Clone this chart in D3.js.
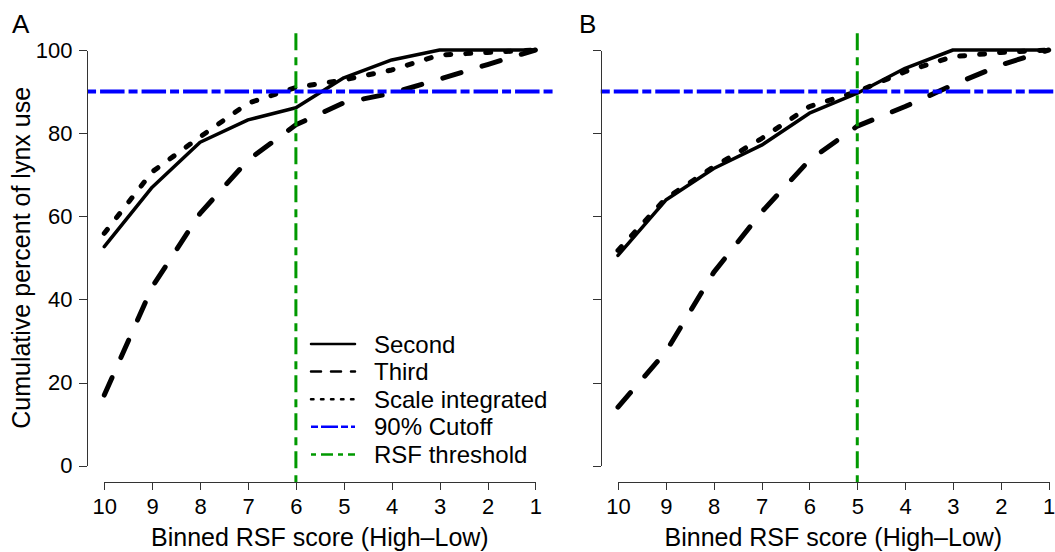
<!DOCTYPE html>
<html>
<head>
<meta charset="utf-8">
<script src="https://cdn.jsdelivr.net/npm/d3@7"></script>
<style>
    body { margin: 0; background: #fff; }
    svg text { font-family: "Liberation Sans", Arial, sans-serif; fill: #000; }
    .axis path, .axis line { stroke: #333; stroke-width: 1; shape-rendering: crispEdges; }
</style>
</head>
<body>
<div id="chart"></div>
<script>

// binned RSF score, high to low
var bins = [10, 9, 8, 7, 6, 5, 4, 3, 2, 1];
var yTicks = [0, 20, 40, 60, 80, 100];

// panel A
var secondA = [52.7, 67.0, 77.8, 83.2, 86.1, 93.3, 97.6, 100, 100, 100];
var thirdA = [17.0, 43.0, 60.7, 73.5, 82.0, 87.3, 89.6, 93.0, 96.5, 100];
var integratedA = [55.9, 70.7, 79.1, 87.2, 91.0, 92.8, 95.2, 98.8, 99.4, 100];

// panel B
var secondB = [50.6, 63.9, 71.5, 77.1, 84.8, 89.6, 95.6, 100, 100, 100];
var thirdB = [14.1, 27.4, 46.5, 61.0, 73.5, 81.7, 86.4, 91.6, 96.4, 100];
var integratedB = [51.8, 64.3, 71.9, 78.7, 86.4, 90.0, 94.8, 98.4, 99.4, 100];

var cutoff = 90;
var thresholdA = 6, thresholdB = 5;

var legendLabels = ["Second", "Third", "Scale integrated", "90% Cutoff", "RSF threshold"];

var width = 1055, height = 552;
var svg;

// line styles (legend uses thinner versions)
var styles = [
    { stroke: "#000", width: 3.5, dash: null, cap: "round", lw: 2.5, ldash: null },
    { stroke: "#000", width: 5, dash: "19,22", cap: "round", lw: 2.5, ldash: "10,10" },
    { stroke: "#000", width: 5, dash: "5,15", cap: "round", lw: 2.5, ldash: "2.5,7.5" },
    { stroke: "#0000ff", width: 4, dash: "9,4,24.5,4", cap: "butt", lw: 2.5, ldash: "7,3,17,3" },
    { stroke: "#009900", width: 3, dash: "17,7,8,6", cap: "butt", lw: 2.5, ldash: "5,5,12,5" }
];

function init() {
    svg = d3.select("#chart").append("svg")
        .attr("width", width)
        .attr("height", height);

    drawPanel({ label: "A", labelX: 12, left: 104.3, right: 535.4, second: secondA, third: thirdA,
        integrated: integratedA, threshold: thresholdA, yLabels: true });
    drawPanel({ label: "B", labelX: 579, left: 618, right: 1048.7, second: secondB, third: thirdB,
        integrated: integratedB, threshold: thresholdB, yLabels: false });

    drawLegend();
}

function drawPanel(p) {
    var x = d3.scaleLinear().domain([10, 1]).range([p.left, p.right]);
    var y = d3.scaleLinear().domain([0, 100]).range([465.7, 50]);

    // R style plot region: 4% beyond the data range
    var x0 = x(10.36), x1 = x(0.64);
    var y0 = y(-4), y1 = y(104);

    var g = svg.append("g");

    var line = d3.line()
        .x(function (d, i) { return x(bins[i]); })
        .y(function (d) { return y(d); });

    [p.second, p.third, p.integrated].forEach(function (series, k) {
        var s = styles[k];
        g.append("path")
            .datum(series)
            .attr("d", line)
            .attr("fill", "none")
            .attr("stroke", s.stroke)
            .attr("stroke-width", s.width)
            .attr("stroke-linecap", s.cap)
            .attr("stroke-linejoin", "round")
            .attr("stroke-dasharray", s.dash);
    });

    // 90% cutoff
    g.append("line")
        .attr("x1", x0).attr("x2", x1)
        .attr("y1", y(cutoff)).attr("y2", y(cutoff))
        .attr("stroke", styles[3].stroke)
        .attr("stroke-width", styles[3].width)
        .attr("stroke-dasharray", styles[3].dash);

    // RSF threshold
    g.append("line")
        .attr("x1", x(p.threshold)).attr("x2", x(p.threshold))
        .attr("y1", y1).attr("y2", y0)
        .attr("stroke", styles[4].stroke)
        .attr("stroke-width", styles[4].width)
        .attr("stroke-dasharray", styles[4].dash);

    // axes
    var xAxis = g.append("g")
        .attr("class", "axis")
        .attr("transform", "translate(0," + y0 + ")")
        .call(d3.axisBottom(x).tickValues(bins).tickSize(8).tickSizeOuter(0).tickPadding(8));
    xAxis.selectAll("text").style("font-size", "22px");

    var yAxis = g.append("g")
        .attr("class", "axis")
        .attr("transform", "translate(" + x0 + ",0)")
        .call(d3.axisLeft(y).tickValues(yTicks).tickSize(8).tickSizeOuter(0).tickPadding(6.5)
            .tickFormat(p.yLabels ? d3.format("d") : ""));
    yAxis.selectAll("text").style("font-size", "22px");

    // axis titles
    g.append("text")
        .attr("x", (x0 + x1) / 2)
        .attr("y", 546)
        .attr("text-anchor", "middle")
        .style("font-size", "25px")
        .text("Binned RSF score (High\u2013Low)");

    if (p.yLabels) {
        g.append("text")
            .attr("transform", "translate(30," + ((y0 + y1) / 2) + ") rotate(-90)")
            .attr("text-anchor", "middle")
            .style("font-size", "25px")
            .text("Cumulative percent of lynx use");
    }

    // panel letter
    g.append("text")
        .attr("x", p.labelX)
        .attr("y", 33)
        .style("font-size", "26px")
        .text(p.label);
}

function drawLegend() {
    var legend = svg.selectAll("g.legendEntry")
        .data(legendLabels)
        .enter()
        .append("g").attr("class", "legendEntry")
        .attr("transform", function (d, i) { return "translate(311," + (344 + i * 27.6) + ")"; });

    legend.append("line")
        .attr("x1", 0).attr("x2", 44)
        .attr("stroke", function (d, i) { return styles[i].stroke; })
        .attr("stroke-width", function (d, i) { return styles[i].lw; })
        .attr("stroke-linecap", function (d, i) { return i < 3 ? "round" : "butt"; })
        .attr("stroke-dasharray", function (d, i) { return styles[i].ldash; });

    legend.append("text")
        .attr("x", 63)
        .attr("y", 8.5)
        .style("font-size", "24px")
        .text(function (d) { return d; });
}

window.onload = init();
</script>
</body>
</html>
